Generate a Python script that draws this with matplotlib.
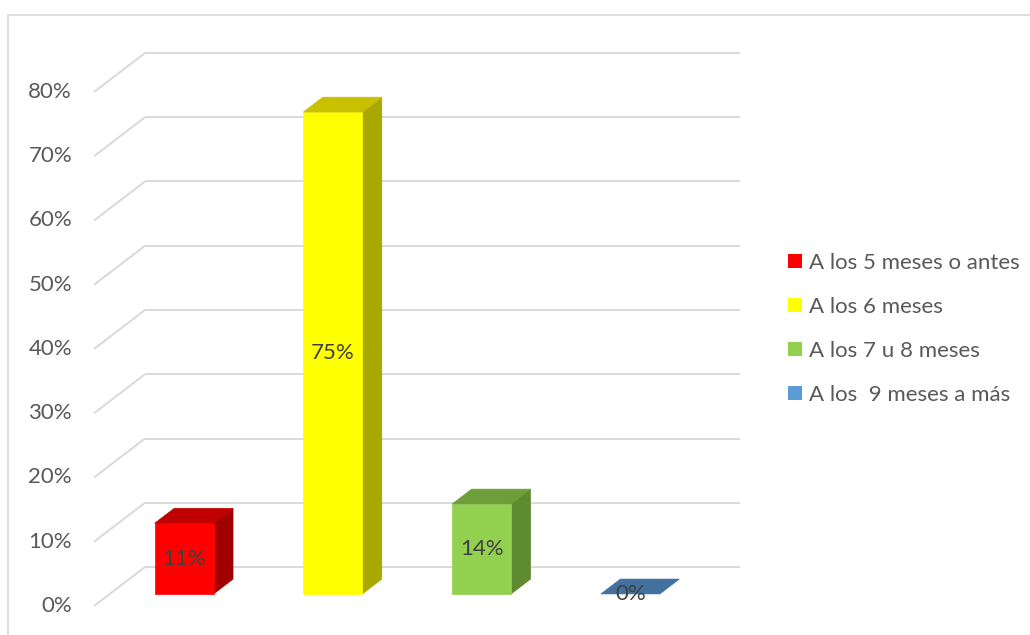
import matplotlib
matplotlib.use("Agg")
import matplotlib.pyplot as plt
from matplotlib.patches import Polygon, Patch, Rectangle
from matplotlib.transforms import offset_copy

# ---- data ----
categories = ["A los 5 meses o antes", "A los 6 meses", "A los 7 u 8 meses", "A los  9 meses a más"]
values = [11, 75, 14, 0]
value_labels = ["11%", "75%", "14%", "0%"]
ticks = [0, 10, 20, 30, 40, 50, 60, 70, 80]
tick_labels = ["0%", "10%", "20%", "30%", "40%", "50%", "60%", "70%", "80%"]

# face colours per series: front, top, side
front_colors = ["#FF0000", "#FFFF00", "#92D050", "#5B9BD5"]
top_colors = ["#C00000", "#C8C000", "#6E9E3A", "#41719C"]
side_colors = ["#A00000", "#A8A800", "#5E8A30", "#35608A"]

plt.rcParams["font.family"] = ["Lato", "DejaVu Sans"]
FS = 16

W, H, DPI = 1030, 635, 100
fig = plt.figure(figsize=(W / DPI, H / DPI), dpi=DPI)
fig.patch.set_facecolor("white")

# back wall of the 3D plot area
ax_l, ax_r, ax_t, ax_b = 145, 740, 53, 567
ax = fig.add_axes([ax_l / W, 1 - ax_b / H, (ax_r - ax_l) / W, (ax_b - ax_t) / H])
ax.set_xlim(0, len(categories))
ax.set_ylim(0, 80)
ax.axis("off")

# depth vector (back -> front) expressed in data units
px_x = (ax_r - ax_l) / len(categories)
px_y = (ax_b - ax_t) / 80
DX = -51 / px_x
DY = -39 / px_y


def P(x, y, d):
    return (x + d * DX, y + d * DY)


grid_kw = dict(color="#D9D9D9", lw=1.4, clip_on=False, zorder=1, solid_capstyle="butt")
for t in ticks:
    ax.plot([0, len(categories)], [t, t], **grid_kw)
    x0, y0 = P(0, t, 1)
    ax.plot([0, x0], [t, y0], **grid_kw)

tick_tr = offset_copy(ax.transData, fig=fig, x=-22, y=0, units="dots")
for t, lab in zip(ticks, tick_labels):
    x0, y0 = P(0, t, 1)
    ax.text(x0, y0, lab, transform=tick_tr, ha="right", va="center",
            fontsize=FS, color="#595959")

# bars as extruded boxes
half_w = 0.198
d0, d1 = 0.31, 0.69
for i, v in enumerate(values):
    c = i + 0.5
    xl, xr = c - half_w, c + half_w
    z = 3 + i
    if v > 0:
        front = [P(xl, 0, d1), P(xr, 0, d1), P(xr, v, d1), P(xl, v, d1)]
        side = [P(xr, 0, d1), P(xr, 0, d0), P(xr, v, d0), P(xr, v, d1)]
        ax.add_patch(Polygon(side, closed=True, fc=side_colors[i], ec=side_colors[i],
                             lw=0.5, clip_on=False, zorder=z))
        ax.add_patch(Polygon(front, closed=True, fc=front_colors[i], ec=front_colors[i],
                             lw=0.5, clip_on=False, zorder=z))
    top = [P(xl, v, d1), P(xr, v, d1), P(xr, v, d0), P(xl, v, d0)]
    ax.add_patch(Polygon(top, closed=True, fc=top_colors[i], ec=top_colors[i],
                         lw=0.5, clip_on=False, zorder=z))
    lx, ly = P(c, v / 2, d1)
    ax.text(lx, ly, value_labels[i], ha="center", va="center", fontsize=FS,
            color="#404040", zorder=10, clip_on=False)

handles = [Patch(facecolor=col, edgecolor="none") for col in front_colors]
fig.legend(handles, categories, loc="center left",
           bbox_to_anchor=(788 / W, 1 - 329 / H), frameon=False,
           fontsize=FS, labelcolor="#595959", handlelength=0.63, handleheight=0.63,
           handletextpad=0.3, labelspacing=1.08, borderaxespad=0, borderpad=0)

# chart area outline
fig.patches.append(Rectangle((8 / W, -0.1), 1.2, 1 - 15 / H + 0.1, transform=fig.transFigure,
                             fill=False, ec="#D9D9D9", lw=1.2))

fig.savefig("out.png", dpi=DPI, facecolor="white")
